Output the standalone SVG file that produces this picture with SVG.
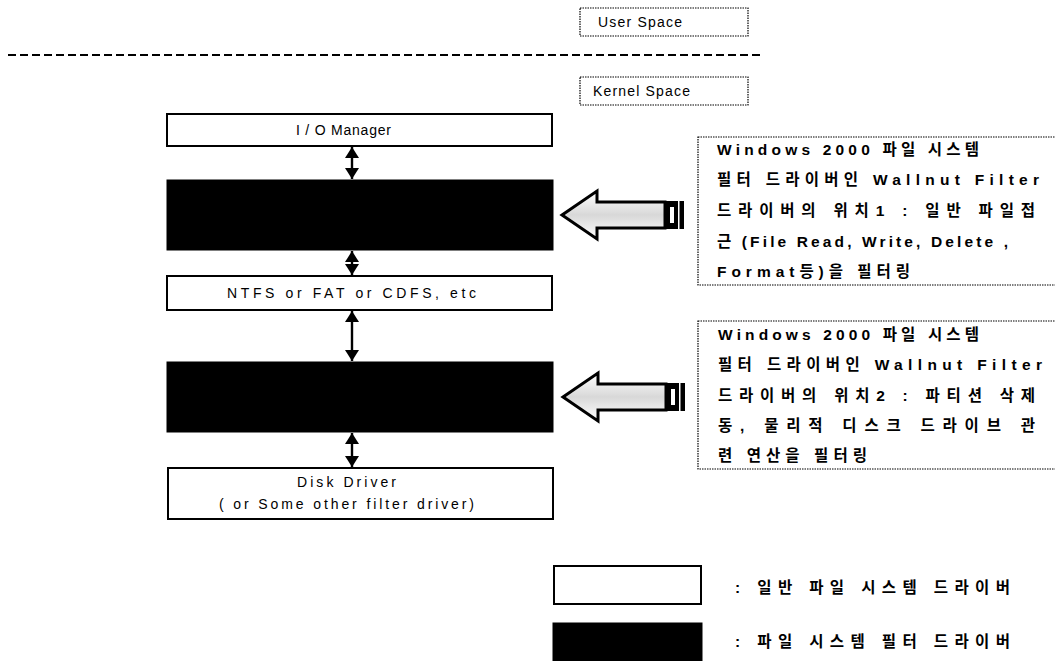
<svg xmlns="http://www.w3.org/2000/svg" width="1055" height="661" viewBox="0 0 1055 661">
<defs>
<style>
.lbl{font-family:"Liberation Sans","Noto Sans CJK KR",sans-serif;font-size:14px;fill:#000}
.kr{font-family:"Liberation Sans","Noto Sans CJK KR",sans-serif;font-size:15.5px;font-weight:bold;fill:#000}
.wbox{fill:#fff;stroke:#000;stroke-width:2}
.bbox{fill:#000;stroke:#000;stroke-width:1}
.dbox{fill:#fff;stroke:#000;stroke-width:1.2;stroke-dasharray:1.5 1}
.conn{stroke:#000;stroke-width:2.4;fill:none}
</style>
<marker id="ah2" viewBox="0 0 11 14" refX="11" refY="7" markerWidth="11" markerHeight="14" markerUnits="userSpaceOnUse" orient="auto-start-reverse">
<path d="M0,0 L11,7 L0,14 z" fill="#000"/>
</marker>
<linearGradient id="shaft" x1="0" y1="0" x2="0" y2="1">
<stop offset="0" stop-color="#fff"/>
<stop offset="0.5" stop-color="#d8d8d8"/>
<stop offset="1" stop-color="#fff"/>
</linearGradient>
<g id="bigArrow">
<path d="M0,0 L35,-24 L35,-13 L103,-13 L103,13 L35,13 L35,24 Z" fill="url(#shaft)" stroke="#000" stroke-width="3" stroke-linejoin="miter"/>
<rect x="104" y="-14" width="18" height="28" fill="#000"/>
<rect x="108" y="-8" width="4" height="16" fill="#fff"/>
<rect x="116" y="-14" width="1.5" height="28" fill="#fff"/>
</g>
</defs>
<rect width="1055" height="661" fill="#fff"/>

<g id="user-space">
<rect class="dbox" x="580" y="8" width="168" height="28"/>
<text class="lbl" x="598" y="27" textLength="84" lengthAdjust="spacing">User Space</text>
</g>
<g id="divider">
<line x1="8" y1="55" x2="762" y2="55" stroke="#000" stroke-width="2" stroke-dasharray="8 4"/>
</g>
<g id="kernel-space">
<rect class="dbox" x="580" y="77" width="168" height="28"/>
<text class="lbl" x="593" y="96" textLength="97" lengthAdjust="spacing">Kernel Space</text>
</g>

<g id="io-manager">
<rect class="wbox" x="167" y="114" width="385" height="32"/>
<text class="lbl" x="296" y="135" textLength="95" lengthAdjust="spacing">I / O Manager</text>
</g>
<g id="filter-driver-1">
<rect class="bbox" x="167" y="180" width="386" height="70"/>
</g>
<g id="fs-driver">
<rect class="wbox" x="167" y="276" width="385" height="34"/>
<text class="lbl" x="227" y="298" textLength="249" lengthAdjust="spacing">NTFS or FAT or CDFS, etc</text>
</g>
<g id="filter-driver-2">
<rect class="bbox" x="167" y="362" width="386" height="70"/>
</g>
<g id="disk-driver">
<rect class="wbox" x="168" y="468" width="385" height="51"/>
<text class="lbl" x="297" y="487" textLength="99" lengthAdjust="spacing">Disk Driver</text>
<text class="lbl" x="219" y="509" textLength="255" lengthAdjust="spacing">( or Some other filter driver)</text>
</g>

<g id="connectors">
<line class="conn" x1="352" y1="147" x2="352" y2="179" marker-start="url(#ah2)" marker-end="url(#ah2)"/>
<line class="conn" x1="352" y1="251" x2="352" y2="275" marker-start="url(#ah2)" marker-end="url(#ah2)"/>
<line class="conn" x1="352" y1="311" x2="352" y2="361" marker-start="url(#ah2)" marker-end="url(#ah2)"/>
<line class="conn" x1="352" y1="433" x2="352" y2="467" marker-start="url(#ah2)" marker-end="url(#ah2)"/>
<use href="#bigArrow" x="562" y="215"/>
<use href="#bigArrow" x="563" y="397"/>
</g>

<g id="note-1">
<rect class="dbox" x="698" y="137" width="370" height="148"/>
<text class="kr" x="717" y="155" textLength="262" lengthAdjust="spacing">Windows 2000 파일 시스템</text>
<text class="kr" x="717" y="185" textLength="322" lengthAdjust="spacing">필터 드라이버인 Wallnut Filter</text>
<text class="kr" x="717" y="216" textLength="318" lengthAdjust="spacing">드라이버의 위치1 : 일반 파일접</text>
<text class="kr" x="717" y="247" textLength="291" lengthAdjust="spacing">근 (File Read, Write, Delete ,</text>
<text class="kr" x="717" y="277" textLength="193" lengthAdjust="spacing">Format등)을 필터링</text>
</g>
<g id="note-2">
<rect class="dbox" x="698" y="321" width="370" height="148"/>
<text class="kr" x="718" y="340" textLength="261" lengthAdjust="spacing">Windows 2000 파일 시스템</text>
<text class="kr" x="718" y="370" textLength="324" lengthAdjust="spacing">필터 드라이버인 Wallnut Filter</text>
<text class="kr" x="718" y="401" textLength="317" lengthAdjust="spacing">드라이버의 위치2 : 파티션 삭제</text>
<text class="kr" x="718" y="431" textLength="317" lengthAdjust="spacing">동, 물리적 디스크 드라이브 관</text>
<text class="kr" x="718" y="461" textLength="149" lengthAdjust="spacing">련 연산을 필터링</text>
</g>

<g id="legend-general">
<rect class="wbox" x="554" y="566" width="147" height="38"/>
<text class="kr" x="735" y="593" textLength="275" lengthAdjust="spacing">: 일반 파일 시스템 드라이버</text>
</g>
<g id="legend-filter">
<rect class="bbox" x="553" y="623" width="149" height="40"/>
<text class="kr" x="735" y="647" textLength="275" lengthAdjust="spacing">: 파일 시스템 필터 드라이버</text>
</g>
</svg>
